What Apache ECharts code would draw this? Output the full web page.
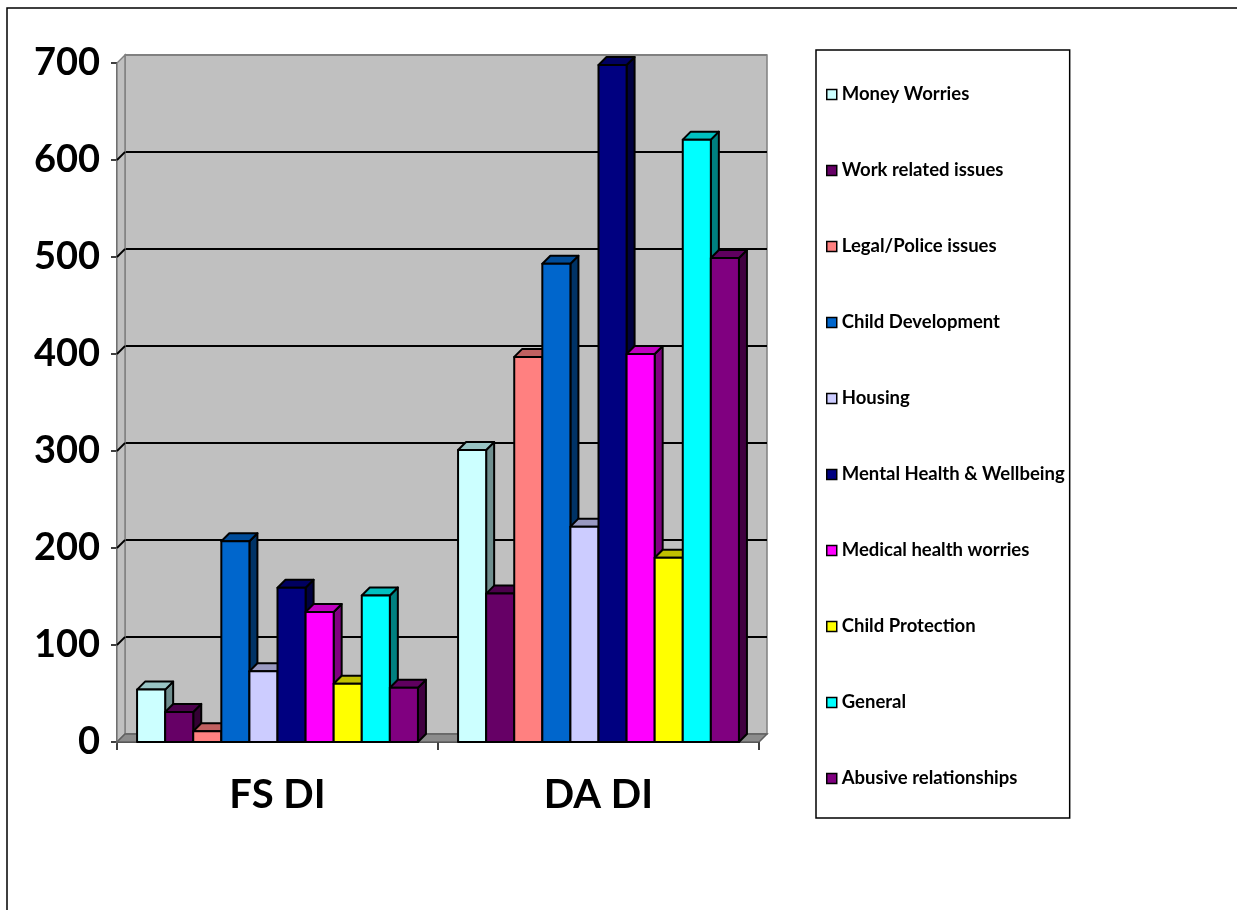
<!DOCTYPE html>
<html><head><meta charset="utf-8">
<script src="https://cdn.jsdelivr.net/npm/echarts@6/dist/echarts.min.js"></script>
<style>html,body{margin:0;padding:0;background:#fff}#c{width:1237px;height:910px}</style>
</head><body><div id="c"></div>
<script>
// ---- data ----
const categories = ['FS DI', 'DA DI'];
const seriesNames = ['Money Worries', 'Work related issues', 'Legal/Police issues', 'Child Development', 'Housing',
  'Mental Health & Wellbeing', 'Medical health worries', 'Child Protection', 'General', 'Abusive relationships'];
const moneyWorries = [54, 301];
const workRelated = [31, 153];
const legalPolice = [11, 397];
const childDevelopment = [207, 493];
const housing = [73, 222];
const mentalHealth = [159, 698];
const medicalHealth = [134, 400];
const childProtection = [60, 190];
const general = [151, 621];
const abusiveRelationships = [56, 499];
const yTicks = [0, 100, 200, 300, 400, 500, 600, 700];

const seriesValues = [moneyWorries, workRelated, legalPolice, childDevelopment, housing,
  mentalHealth, medicalHealth, childProtection, general, abusiveRelationships];

// ---- styles ----
const frontColors = ['#CCFFFF', '#660066', '#FF8080', '#0066CC', '#CCCCFF', '#000080', '#FF00FF', '#FFFF00', '#00FFFF', '#800080'];
const topColors   = ['#99C4C4', '#4C004C', '#C06060', '#004C99', '#9999C0', '#000060', '#C000C0', '#C0C000', '#00C0C0', '#600060'];
const sideColors  = ['#6F8E8E', '#330033', '#804040', '#003366', '#666680', '#000040', '#800080', '#808000', '#008080', '#400040'];
const DEPTH = 8;
const FILL_RATIO = 0.875;
const yMax = yTicks[yTicks.length - 1];

const chart = echarts.init(document.getElementById('c'), null, {renderer: 'canvas'});

function barRenderer(i) {
  return function (params, api) {
    const cat = api.value(0), val = api.value(1);
    const base = api.coord([cat, 0]);
    const top = api.coord([cat, val]);
    const bandW = api.size([1, 0])[0];
    const barW = bandW * FILL_RATIO / seriesNames.length;
    const x0 = base[0] - bandW * FILL_RATIO / 2 + i * barW;
    const x1 = x0 + barW;
    const yT = top[1], yB = base[1];
    const d = DEPTH;
    const stroke = {stroke: '#000', lineWidth: 2, lineJoin: 'round'};
    return {
      type: 'group',
      children: [
        {type: 'polygon', z2: i * 3,
          shape: {points: [[x1, yT], [x1 + d, yT - d], [x1 + d, yB - d], [x1, yB]]},
          style: Object.assign({fill: sideColors[i]}, stroke)},
        {type: 'polygon', z2: i * 3 + 1,
          shape: {points: [[x0, yT], [x0 + d, yT - d], [x1 + d, yT - d], [x1, yT]]},
          style: Object.assign({fill: topColors[i]}, stroke)},
        {type: 'rect', z2: i * 3 + 2,
          shape: {x: x0, y: yT, width: barW, height: yB - yT},
          style: Object.assign({fill: frontColors[i]}, stroke)}
      ]
    };
  };
}

function wallRenderer(params, api) {
  const c0 = api.coord([0, 0]);
  const bandW = api.size([1, 0])[0];
  const x0 = c0[0] - bandW / 2;
  const x1 = x0 + bandW * categories.length;
  const yb = c0[1];
  const yt = api.coord([0, yMax])[1];
  const d = DEPTH;
  const children = [
    {type: 'polygon', shape: {points: [[x0, yb], [x0, yt], [x0 + d, yt - d], [x0 + d, yb - d]]},
      style: {fill: '#C0C0C0', stroke: '#808080', lineWidth: 1.5}},
    {type: 'polygon', shape: {points: [[x0, yb], [x1, yb], [x1 + d, yb - d], [x0 + d, yb - d]]},
      style: {fill: '#8C8C8C', stroke: '#606060', lineWidth: 1.5}}
  ];
  yTicks.forEach(function (t) {
    if (t === 0 || t === yMax) return;
    const y = api.coord([0, t])[1];
    children.push({type: 'line', shape: {x1: x0, y1: y, x2: x0 + d, y2: y - d},
      style: {stroke: '#000', lineWidth: 1.8}});
  });
  return {type: 'group', children: children};
}

const splitColors = yTicks.map(function (t, k) { return (k === 0 || k === yTicks.length - 1) ? '#808080' : '#000'; });

const series = [{
  type: 'custom', name: '_walls', xAxisIndex: 0, yAxisIndex: 0, z: 1,
  data: [[0, 0]], renderItem: wallRenderer, silent: true
}];
seriesNames.forEach(function (name, i) {
  series.push({
    type: 'custom', name: name, xAxisIndex: 0, yAxisIndex: 0, z: 3,
    itemStyle: {color: frontColors[i]},
    encode: {x: 0, y: 1},
    data: categories.map(function (c, k) { return [k, seriesValues[i][k]]; }),
    renderItem: barRenderer(i)
  });
});

const FONT = 'Lato, "Open Sans", sans-serif';

chart.setOption({
  animation: false,
  backgroundColor: '#fff',
  graphic: [{type: 'rect', shape: {x: 7, y: 8, width: 1400, height: 1000},
    style: {fill: 'none', stroke: '#000', lineWidth: 1.5}, silent: true, z: 0}],
  grid: [
    {left: 117, top: 63, width: 642, height: 679},
    {left: 125, top: 55, width: 642, height: 679, show: true, backgroundColor: '#C0C0C0',
      borderColor: '#808080', borderWidth: 1.5}
  ],
  xAxis: [
    {type: 'category', gridIndex: 0, data: categories, boundaryGap: true,
      axisLine: {show: true, lineStyle: {color: '#000', width: 1.5}},
      axisTick: {show: true, length: 8, interval: 0, lineStyle: {color: '#000', width: 1.5}},
      axisLabel: {fontSize: 40, fontWeight: 'bold', fontFamily: FONT, color: '#000', margin: 33},
      splitLine: {show: false}},
    {type: 'category', gridIndex: 1, data: categories, show: false}
  ],
  yAxis: [
    {type: 'value', gridIndex: 0, min: 0, max: yMax, interval: 100,
      axisLine: {show: true, lineStyle: {color: '#000', width: 1.5}},
      axisTick: {show: true, length: 6, lineStyle: {color: '#000', width: 1.5}},
      axisLabel: {fontSize: 38, fontWeight: 'bold', fontFamily: FONT, color: '#000', margin: 17},
      splitLine: {show: false}},
    {type: 'value', gridIndex: 1, min: 0, max: yMax, interval: 100,
      axisLine: {show: false}, axisTick: {show: false}, axisLabel: {show: false},
      splitLine: {show: true, lineStyle: {color: splitColors, width: 1.8}}}
  ],
  legend: {
    data: seriesNames, orient: 'vertical', left: 816, top: 50,
    icon: 'rect', itemWidth: 10, itemHeight: 10, itemGap: 57,
    padding: [35, 5, 30, 10],
    borderColor: '#000', borderWidth: 1.5,
    itemStyle: {borderColor: '#000', borderWidth: 1.5},
    textStyle: {fontSize: 18.5, fontWeight: 'bold', fontFamily: FONT, color: '#000', lineHeight: 17},
    selectedMode: false
  },
  series: series
});
</script></body></html>
